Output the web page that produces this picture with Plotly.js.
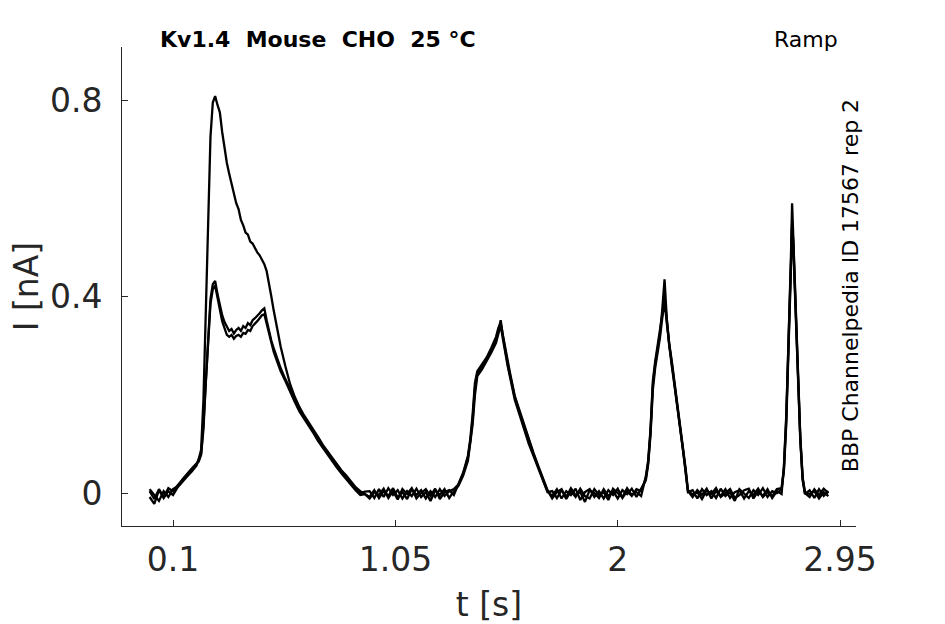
<!DOCTYPE html>
<html>
<head>
<meta charset="utf-8">
<script src="https://cdn.plot.ly/plotly-3.0.1.min.js"></script>
<style>
  html, body { margin: 0; padding: 0; background: #fff; }
  #chart { width: 945px; height: 624px; }
</style>
</head>
<body>
<div id="chart"></div>
<script>
// time points (s), shared by the three repetitions
const t = [
  0.00, 0.02, 0.04, 0.06, 0.08, 0.10, 0.12, 0.14, 0.16, 0.18, 0.20,
  0.21, 0.22, 0.23, 0.24, 0.25, 0.26, 0.27, 0.28, 0.29, 0.30, 0.31, 0.32,
  0.33, 0.34, 0.35, 0.36, 0.37, 0.38, 0.39, 0.40, 0.41, 0.42, 0.43, 0.44,
  0.45, 0.46, 0.47, 0.48, 0.49, 0.50, 0.51, 0.52, 0.53, 0.54, 0.55, 0.56,
  0.58, 0.60, 0.62, 0.64, 0.66, 0.68, 0.70, 0.72, 0.74, 0.76, 0.78, 0.80,
  0.82, 0.84, 0.86, 0.88, 0.90, 0.92,
  0.94, 0.96, 0.98, 1.00, 1.02, 1.04, 1.06, 1.08, 1.10, 1.12, 1.14, 1.16,
  1.18, 1.20, 1.22, 1.24, 1.26, 1.28, 1.30,
  1.32, 1.34, 1.36, 1.37, 1.38, 1.39, 1.40, 1.42, 1.44, 1.46, 1.48, 1.49,
  1.50, 1.51, 1.52, 1.53, 1.54, 1.56, 1.58, 1.60, 1.62, 1.64, 1.66, 1.68, 1.70,
  1.72, 1.74, 1.76, 1.78, 1.80, 1.82, 1.84, 1.86, 1.88, 1.90, 1.92, 1.94,
  1.96, 1.98, 2.00, 2.02, 2.04, 2.06, 2.08, 2.10,
  2.12, 2.13, 2.14, 2.15, 2.16, 2.17, 2.18, 2.19, 2.20, 2.21, 2.22, 2.23,
  2.24, 2.25, 2.26, 2.27, 2.28, 2.29, 2.30,
  2.32, 2.34, 2.36, 2.38, 2.40, 2.42, 2.44, 2.46, 2.48, 2.50, 2.52, 2.54,
  2.56, 2.58, 2.60, 2.62, 2.64, 2.66, 2.68, 2.70,
  2.71, 2.72, 2.73, 2.74, 2.745, 2.75, 2.76, 2.77, 2.78, 2.79, 2.80,
  2.82, 2.84, 2.86, 2.88, 2.90
];

// current (nA), repetition with the large first peak
const rep1 = [
  0.004, -0.012, 0.008, -0.008, 0.010, 0.004, 0.016, 0.026, 0.036, 0.048, 0.058,
  0.070, 0.088, 0.190, 0.380, 0.560, 0.725, 0.795, 0.808, 0.790, 0.775, 0.735, 0.700,
  0.672, 0.650, 0.628, 0.612, 0.590, 0.578, 0.556, 0.545, 0.530, 0.526, 0.512, 0.508,
  0.498, 0.490, 0.484, 0.474, 0.466, 0.452, 0.428, 0.400, 0.372, 0.345, 0.320, 0.298,
  0.258, 0.222, 0.196, 0.175, 0.158, 0.144, 0.128, 0.114, 0.098, 0.085, 0.072, 0.058,
  0.046, 0.036, 0.024, 0.012, 0.004, -0.002,
  -0.008, 0.006, -0.010, 0.004, -0.006, 0.010, -0.009, 0.002, -0.012, 0.008, -0.004, 0.006,
  -0.011, 0.004, -0.008, 0.008, -0.006, 0.004, 0.008,
  0.018, 0.040, 0.072, 0.105, 0.150, 0.215, 0.242, 0.258, 0.272, 0.292, 0.312, 0.330,
  0.352, 0.318, 0.288, 0.262, 0.240, 0.195, 0.165, 0.135, 0.105, 0.080, 0.054, 0.028, 0.004,
  -0.006, 0.008, -0.011, 0.004, -0.004, 0.009, -0.014, 0.002, 0.008, -0.008, 0.004, -0.011,
  0.006, -0.004, 0.009, -0.010, 0.004, -0.006, 0.008, 0.004,
  0.030, 0.062, 0.125, 0.220, 0.262, 0.292, 0.322, 0.372, 0.435, 0.352, 0.300, 0.268,
  0.232, 0.198, 0.162, 0.126, 0.088, 0.046, 0.004,
  -0.008, 0.006, -0.004, 0.009, -0.011, 0.004, -0.006, 0.008, -0.010, 0.002, 0.006, -0.011,
  0.004, -0.004, 0.009, -0.008, 0.002, -0.006, 0.008, 0.010,
  0.050, 0.150, 0.300, 0.480, 0.590, 0.520, 0.380, 0.240, 0.115, 0.030, 0.000,
  -0.008, 0.008, -0.004, 0.009, 0.000
];

// current (nA), repetitions with the smaller first peak
const rep2 = [
  -0.008, -0.022, 0.006, -0.010, 0.004, -0.004, 0.012, 0.024, 0.034, 0.044, 0.056,
  0.068, 0.080, 0.140, 0.235, 0.325, 0.395, 0.425, 0.432, 0.405, 0.380, 0.362, 0.348,
  0.338, 0.330, 0.334, 0.325, 0.332, 0.336, 0.330, 0.340, 0.336, 0.346, 0.342, 0.352,
  0.356, 0.360, 0.366, 0.372, 0.376, 0.352, 0.330, 0.310, 0.295, 0.280, 0.266, 0.254,
  0.232, 0.212, 0.190, 0.173, 0.155, 0.142, 0.125, 0.112, 0.094, 0.084, 0.068, 0.058,
  0.043, 0.034, 0.020, 0.010, 0.000, 0.003,
  0.004, -0.010, 0.008, -0.008, 0.010, -0.004, 0.006, -0.011, 0.004, -0.006, 0.009, -0.008,
  0.002, -0.016, 0.006, -0.004, 0.008, -0.010, 0.004,
  0.015, 0.036, 0.066, 0.098, 0.140, 0.200, 0.238, 0.252, 0.268, 0.286, 0.306, 0.322,
  0.342, 0.312, 0.282, 0.258, 0.236, 0.190, 0.160, 0.130, 0.100, 0.076, 0.050, 0.024, 0.002,
  0.004, -0.010, 0.006, -0.008, 0.010, -0.004, 0.002, -0.018, 0.006, 0.000, -0.010, 0.008,
  -0.006, 0.004, -0.011, 0.006, -0.002, 0.009, -0.008, 0.010,
  0.026, 0.058, 0.118, 0.210, 0.255, 0.285, 0.315, 0.355, 0.390, 0.345, 0.296, 0.262,
  0.228, 0.194, 0.158, 0.122, 0.084, 0.042, 0.002,
  0.006, -0.011, 0.008, -0.004, 0.004, -0.010, 0.009, -0.006, 0.002, -0.016, 0.008, -0.002,
  -0.010, 0.006, -0.004, 0.010, -0.008, 0.004, 0.000, 0.008,
  0.045, 0.140, 0.285, 0.455, 0.550, 0.505, 0.370, 0.232, 0.108, 0.026, -0.002,
  0.006, -0.010, 0.008, -0.006, 0.004
];

const rep3 = [
  0.008, -0.004, -0.016, 0.004, -0.008, 0.008, 0.014, 0.028, 0.040, 0.050, 0.060,
  0.064, 0.078, 0.130, 0.225, 0.320, 0.385, 0.415, 0.422, 0.398, 0.372, 0.350, 0.336,
  0.322, 0.318, 0.322, 0.314, 0.320, 0.322, 0.318, 0.326, 0.324, 0.332, 0.330, 0.340,
  0.344, 0.350, 0.356, 0.362, 0.364, 0.345, 0.322, 0.304, 0.288, 0.274, 0.260, 0.248,
  0.228, 0.206, 0.186, 0.166, 0.152, 0.136, 0.122, 0.106, 0.092, 0.078, 0.066, 0.052,
  0.040, 0.028, 0.018, 0.006, -0.004, -0.002,
  -0.011, 0.002, -0.004, 0.009, -0.010, 0.004, -0.013, 0.008, -0.002, 0.010, -0.011, 0.000,
  0.008, -0.006, 0.009, -0.012, 0.002, 0.006, -0.004,
  0.020, 0.042, 0.076, 0.110, 0.160, 0.225, 0.248, 0.262, 0.276, 0.296, 0.318, 0.336,
  0.346, 0.320, 0.292, 0.266, 0.244, 0.198, 0.168, 0.138, 0.108, 0.082, 0.056, 0.030, 0.006,
  -0.011, 0.002, 0.008, -0.012, 0.004, -0.008, 0.009, -0.006, -0.011, 0.008, -0.004, 0.002,
  -0.014, 0.009, 0.000, -0.008, 0.010, -0.004, 0.002, -0.006,
  0.034, 0.066, 0.130, 0.228, 0.268, 0.298, 0.328, 0.362, 0.400, 0.350, 0.304, 0.272,
  0.236, 0.202, 0.166, 0.130, 0.092, 0.050, 0.006,
  -0.004, 0.002, -0.012, 0.006, -0.002, 0.010, -0.008, 0.000, 0.008, -0.010, -0.004, 0.006,
  0.009, -0.011, 0.004, -0.006, 0.008, -0.010, 0.004, -0.002,
  0.055, 0.158, 0.310, 0.470, 0.545, 0.512, 0.376, 0.236, 0.112, 0.032, 0.002,
  -0.002, 0.004, -0.011, 0.002, -0.006
];

const xTicks = [0.1, 1.05, 2, 2.95];
const xTickText = ['0.1', '1.05', '2', '2.95'];
const yTicks = [0, 0.4, 0.8];
const yTickText = ['0', '0.4', '0.8'];

const reps = [rep1, rep2, rep3];
const data = reps.map(function (r) {
  return {
    x: t,
    y: r,
    mode: 'lines',
    type: 'scatter',
    line: { color: '#000000', width: 2.3 },
    hoverinfo: 'skip'
  };
});

const tickFont = { family: 'DejaVu Sans', size: 33, color: '#262626' };
const noteFont = { family: 'DejaVu Sans', size: 22, color: '#000000' };

const layout = {
  width: 945,
  height: 624,
  margin: { l: 122, r: 89, t: 47, b: 98 },
  paper_bgcolor: '#ffffff',
  plot_bgcolor: '#ffffff',
  showlegend: false,
  font: { family: 'DejaVu Sans', color: '#262626' },
  xaxis: {
    range: [-0.118, 3.018],
    tickvals: xTicks,
    ticktext: xTickText,
    ticks: 'inside',
    ticklen: 6,
    tickcolor: '#262626',
    tickfont: tickFont,
    ticklabelstandoff: 4,
    showline: true,
    linecolor: '#262626',
    linewidth: 1,
    showgrid: false,
    zeroline: false,
    title: { text: 't [s]', font: tickFont, standoff: 16 }
  },
  yaxis: {
    range: [-0.067, 0.908],
    tickvals: yTicks,
    ticktext: yTickText,
    ticks: 'inside',
    ticklen: 6,
    tickcolor: '#262626',
    tickfont: tickFont,
    ticklabelstandoff: 12,
    showline: true,
    linecolor: '#262626',
    linewidth: 1,
    showgrid: false,
    zeroline: false,
    title: { text: 'I [nA]', font: tickFont, standoff: 1 }
  },
  annotations: [
    {
      xref: 'paper', yref: 'paper', x: 0.049, y: 1.015,
      xanchor: 'left', yanchor: 'middle', showarrow: false,
      text: '<b>Kv1.4\u00a0 Mouse\u00a0 CHO\u00a0 25 °C</b>',
      font: noteFont
    },
    {
      xref: 'paper', yref: 'paper', x: 0.978, y: 1.015,
      xanchor: 'right', yanchor: 'middle', showarrow: false,
      text: 'Ramp',
      font: noteFont
    },
    {
      xref: 'paper', yref: 'paper', x: 0.992, y: 0.501,
      xanchor: 'center', yanchor: 'middle', showarrow: false,
      textangle: -90,
      text: 'BBP Channelpedia ID 17567 rep 2',
      font: noteFont
    }
  ]
};

Plotly.newPlot('chart', data, layout, { staticPlot: true, displayModeBar: false });
</script>
</body>
</html>
